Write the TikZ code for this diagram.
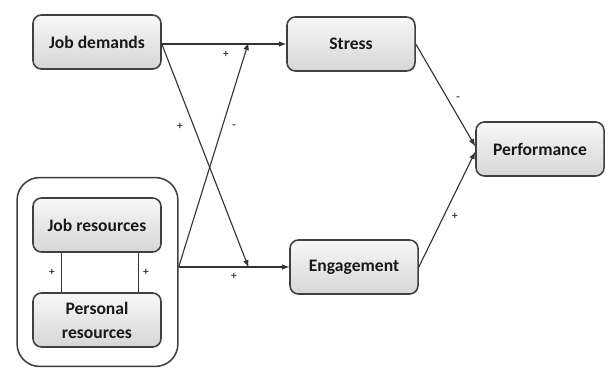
\documentclass[tikz,border=0pt]{standalone}
\usepackage{fontspec}
\setmainfont{Carlito}
\usepackage{tikz}

\tikzset{
  blk/.style={draw=black!75, line width=1.1pt, rounded corners=6pt,
    top color=gray!6, bottom color=gray!32,
    minimum width=3.2cm, minimum height=1.35cm, align=center,
    font=\fontsize{12.5}{15}\selectfont\bfseries, text=black!90},
  sgn/.style={font=\footnotesize\bfseries, text=black!75, inner sep=0pt}
}

\begin{document}
\begin{tikzpicture}[x=0.025cm, y=-0.025cm, >=latex, line width=0.8pt, draw=black!80]
\useasboundingbox (0,0) rectangle (610,368);
% boxes
\node [blk] (jd) at (97,42) {Job demands};
\node [blk] (st) at (351,44) {Stress};
\node [blk] (eng) at (354,267) {Engagement};
\node [blk] (perf) at (540,149) {Performance};
\node [draw=black!75, line width=1.1pt, rounded corners=16pt,
       minimum width=4.02cm, minimum height=4.72cm] (grp) at (97.5,272) {};
\node [blk] (jr) at (97,225) {Job resources};
\node [blk] (pr) at (97,320) {Personal\\[2pt]resources};
% crossing points
\coordinate (xa) at (248,44);
\coordinate (xb) at (248,266);
% paths
\draw [->] (st.west -| jd.east) -- (st.west);
\draw [->] (eng.west -| grp.east) -- (eng.west);
\draw [->, shorten >=-1pt] (jd.east |- st.west) -- (xb);
\draw [->, shorten >=-1pt] (eng.west -| grp.east) -- (xa);
\draw [->] (st.east) -- ([yshift=2pt]perf.west);
\draw [->] (eng.east) -- ([yshift=-2pt]perf.west);
\draw ([xshift=-0.88cm]jr.south) -- ([xshift=-0.88cm]jr.south |- pr.north);
\draw ([xshift=1.03cm]jr.south) -- ([xshift=1.03cm]jr.south |- pr.north);
% signs
\node [sgn] (s1) at (226,54) {+};
\node [sgn] (s2) at (180,126) {+};
\node [sgn] (s3) at (234,127) {-};
\node [sgn] (s4) at (234,276) {+};
\node [sgn] (s5) at (458,99) {-};
\node [sgn] (s6) at (455,216) {+};
\node [sgn] (s7) at (52,272) {+};
\node [sgn] (s8) at (146,272) {+};
\end{tikzpicture}
\end{document}
